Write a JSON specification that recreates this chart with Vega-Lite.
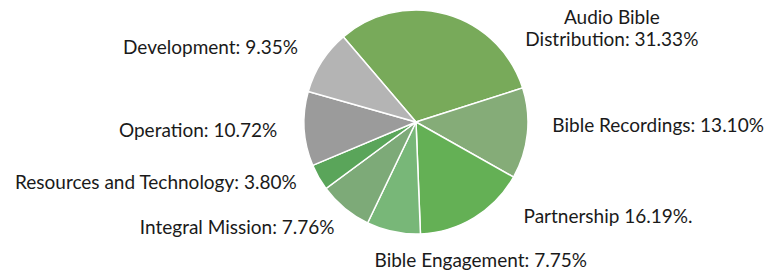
{
  "$schema": "https://vega.github.io/schema/vega-lite/v6.json",
  "autosize": {"type": "none"},
  "width": 702,
  "height": 244,
  "padding": {"left": 65, "top": 0, "right": 0, "bottom": 32},
  "background": "white",
  "config": {"view": {"stroke": null}, "text": {"font": "Lato", "fontSize": 19, "fill": "#1a1a1a"}},
  "data": {
    "values": [
      {"idx": 0, "category": "Audio Bible Distribution", "pct": 31.33, "label": "Audio Bible\nDistribution: 31.33%"},
      {"idx": 1, "category": "Bible Recordings", "pct": 13.10, "label": "Bible Recordings: 13.10%"},
      {"idx": 2, "category": "Partnership", "pct": 16.19, "label": "Partnership 16.19%."},
      {"idx": 3, "category": "Bible Engagement", "pct": 7.75, "label": "Bible Engagement: 7.75%"},
      {"idx": 4, "category": "Integral Mission", "pct": 7.76, "label": "Integral Mission: 7.76%"},
      {"idx": 5, "category": "Resources and Technology", "pct": 3.80, "label": "Resources and Technology: 3.80%"},
      {"idx": 6, "category": "Operation", "pct": 10.72, "label": "Operation: 10.72%"},
      {"idx": 7, "category": "Development", "pct": 9.35, "label": "Development: 9.35%"}
    ]
  },
  "encoding": {
    "theta": {"field": "pct", "type": "quantitative", "stack": true, "scale": {"range": [-0.707, 5.576]}},
    "order": {"field": "idx", "type": "quantitative"}
  },
  "layer": [
    {
      "mark": {"type": "arc", "outerRadius": 112, "stroke": "white", "strokeWidth": 1.5},
      "encoding": {
        "color": {
          "field": "category", "type": "nominal", "legend": null,
          "scale": {
            "domain": ["Audio Bible Distribution", "Bible Recordings", "Partnership", "Bible Engagement", "Integral Mission", "Resources and Technology", "Operation", "Development"],
            "range": ["#78aa5a", "#85ac78", "#64b055", "#78b778", "#7daa78", "#5aa55a", "#9b9b9b", "#b4b4b4"]
          }
        }
      }
    },
    {
      "mark": {"type": "text", "radius": 120, "align": "center", "baseline": "alphabetic", "lineBreak": "\n", "lineHeight": 22, "dx": 163, "dy": 17},
      "encoding": {"text": {"condition": {"test": "datum.idx == 0", "field": "label"}, "value": ""}}
    },
    {
      "mark": {"type": "text", "radius": 120, "align": "left", "baseline": "alphabetic", "dx": 17, "dy": -2},
      "encoding": {"text": {"condition": {"test": "datum.idx == 1", "field": "label"}, "value": ""}}
    },
    {
      "mark": {"type": "text", "radius": 120, "align": "left", "baseline": "alphabetic", "dx": 45, "dy": -1},
      "encoding": {"text": {"condition": {"test": "datum.idx == 2", "field": "label"}, "value": ""}}
    },
    {
      "mark": {"type": "text", "radius": 120, "align": "center", "baseline": "alphabetic", "dx": 89, "dy": 27},
      "encoding": {"text": {"condition": {"test": "datum.idx == 3", "field": "label"}, "value": ""}}
    },
    {
      "mark": {"type": "text", "radius": 120, "align": "right", "baseline": "alphabetic", "dx": -5, "dy": 20},
      "encoding": {"text": {"condition": {"test": "datum.idx == 4", "field": "label"}, "value": ""}}
    },
    {
      "mark": {"type": "text", "radius": 120, "align": "right", "baseline": "alphabetic", "dx": -15, "dy": 8},
      "encoding": {"text": {"condition": {"test": "datum.idx == 5", "field": "label"}, "value": ""}}
    },
    {
      "mark": {"type": "text", "radius": 120, "align": "right", "baseline": "alphabetic", "dx": -19, "dy": 8},
      "encoding": {"text": {"condition": {"test": "datum.idx == 6", "field": "label"}, "value": ""}}
    },
    {
      "mark": {"type": "text", "radius": 120, "align": "right", "baseline": "alphabetic", "dx": -17, "dy": -3},
      "encoding": {"text": {"condition": {"test": "datum.idx == 7", "field": "label"}, "value": ""}}
    }
  ]
}
